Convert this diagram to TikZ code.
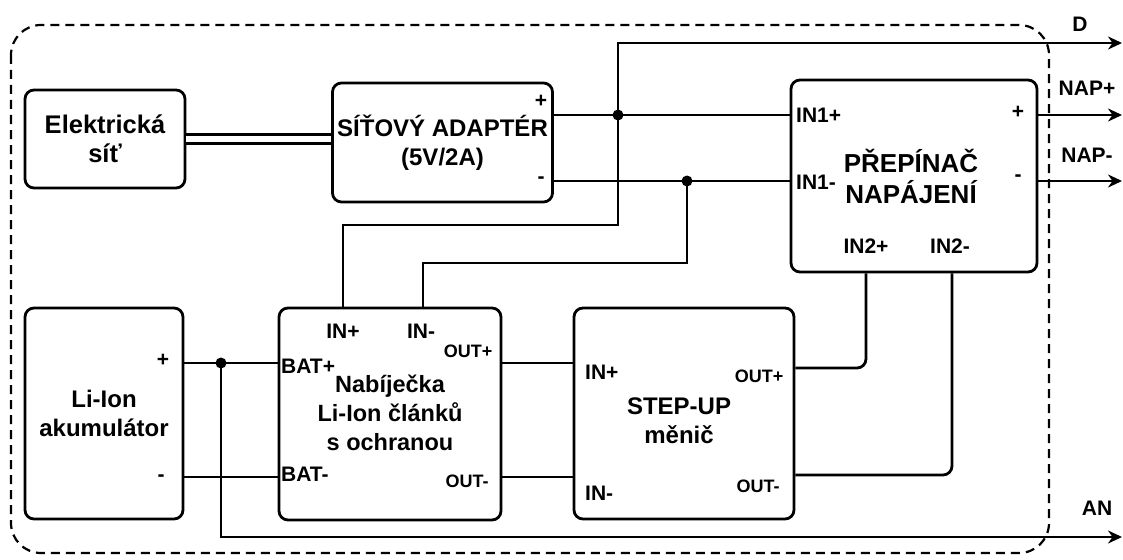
\documentclass[tikz,border=0pt]{standalone}
\usepackage{fontspec}
\setmainfont{Liberation Sans}
\usetikzlibrary{arrows.meta}

\begin{document}
\begin{tikzpicture}[x=1pt,y=-1pt,
  blok/.style={draw,line width=2.8pt,rounded corners=9pt,align=center,font=\bfseries\fontsize{24}{29}\selectfont},
  popis/.style={align=center,font=\bfseries\fontsize{24}{29}\selectfont},
  pin/.style={inner sep=0pt,font=\bfseries\fontsize{21}{24}\selectfont},
  mpin/.style={inner sep=0pt,font=\bfseries\fontsize{18}{21}\selectfont},
  vodic/.style={line width=2.8pt},
  sipka/.style={vodic,-{Stealth[length=14pt,width=13pt]}}]
\useasboundingbox (0,0) rectangle (1123,559);
\draw[line width=2.2pt,dash pattern=on 9pt off 6pt,rounded corners=30pt] (11,25) rectangle (1049,553);

\node[blok,minimum width=160pt,minimum height=98pt,font=\bfseries\fontsize{25.5}{29}\selectfont] (sit) at (105,139){Elektrická\\síť};
\node[blok,minimum width=220pt,minimum height=119pt] (adapter) at (442.5,142.5){SÍŤOVÝ ADAPTÉR\\(5V/2A)};
\node[blok,minimum width=246pt,minimum height=192pt] (prep) at (914,176){};
\node[popis,font=\bfseries\fontsize{26}{31}\selectfont] (prept) at (911,176){PŘEPÍNAČ\\NAPÁJENÍ};
\node[blok,minimum width=158pt,minimum height=211pt] (aku) at (104,413.5){Li-Ion\\akumulátor};
\node[blok,minimum width=222pt,minimum height=212pt] (nab) at (390,414){};
\node[popis,font=\bfseries\fontsize{23.5}{29}\selectfont] (nabt) at (390,413){Nabíječka\\Li-Ion článků\\s ochranou};
\node[blok,minimum width=220pt,minimum height=211pt] (menic) at (684,413.5){};
\node[popis] (menict) at (679,421){STEP-UP\\měnič};

\node[pin] (ap) at (541,101){+};\node[pin] (am) at (541,180){-};
\node[pin,anchor=west] (in1p) at (796,115){IN1+};\node[pin,anchor=west] (in1m) at (796,182){IN1-};
\node[pin] (pp) at (1018,112){+};\node[pin] (pm) at (1018,178){-};
\node[pin] (in2p) at (866,246){IN2+};\node[pin] (in2m) at (950,246){IN2-};
\node[pin] (akp) at (163,360){+};\node[pin] (akm) at (161,478){-};
\node[pin] (ninp) at (343,331){IN+};\node[pin] (ninm) at (421,331){IN-};
\node[mpin] (noutp) at (468,351){OUT+};\node[mpin] (noutm) at (467,481){OUT-};
\node[pin,anchor=west] (batp) at (281,366){BAT+};\node[pin,anchor=west] (batm) at (281,474){BAT-};
\node[pin,anchor=west] (minp) at (585,372){IN+};\node[pin,anchor=west] (minm) at (585,493){IN-};
\node[mpin] (moutp) at (759,376){OUT+};\node[mpin] (moutm) at (758,486){OUT-};
\node[pin] (lD) at (1080,24){D};\node[pin] (lnapp) at (1087,88){NAP+};
\node[pin] (lnapm) at (1087,155){NAP-};\node[pin] (lAN) at (1097,508){AN};

\coordinate (j1) at (618,115);\coordinate (j2) at (687,181);\coordinate (j3) at (221,363);
\coordinate (vD) at (1122,43);\coordinate (vnapp) at (1122,115);\coordinate (vnapm) at (1122,181);\coordinate (vAN) at (1122,537);

\draw[vodic,double,double distance=6pt] (sit.east) -- (adapter.west |- sit.east);
\draw[vodic] (adapter.east |- j1) -- (prep.west |- j1);
\draw[vodic] (adapter.east |- j2) -- (prep.west |- j2);
\draw[sipka] (j1) |- (vD);
\draw[vodic] (j1) -- ++(0,110) -| ([xshift=-47pt]nab.north);
\draw[vodic] (j2) -- ++(0,82) -| ([xshift=33pt]nab.north);
\draw[sipka] (prep.east |- vnapp) -- (vnapp);
\draw[sipka] (prep.east |- vnapm) -- (vnapm);
\draw[vodic] (aku.east |- j3) -- (nab.west |- j3);
\draw[vodic] ([yshift=-63.5pt]aku.east) -- ([yshift=-63pt]nab.west);
\draw[vodic] ([yshift=51pt]nab.east) -- ([yshift=50.5pt]menic.west);
\draw[vodic] ([yshift=-63pt]nab.east) -- ([yshift=-63.5pt]menic.west);
\draw[vodic,rounded corners=9pt] ([yshift=45.5pt]menic.east) -| ([xshift=-48pt]prep.south);
\draw[vodic,rounded corners=9pt] ([yshift=-61.5pt]menic.east) -| ([xshift=38pt]prep.south);
\draw[sipka] (j3) |- (vAN);
\fill (j1) circle (5.5pt) (j2) circle (5.5pt) (j3) circle (5.5pt);
\end{tikzpicture}
\end{document}
